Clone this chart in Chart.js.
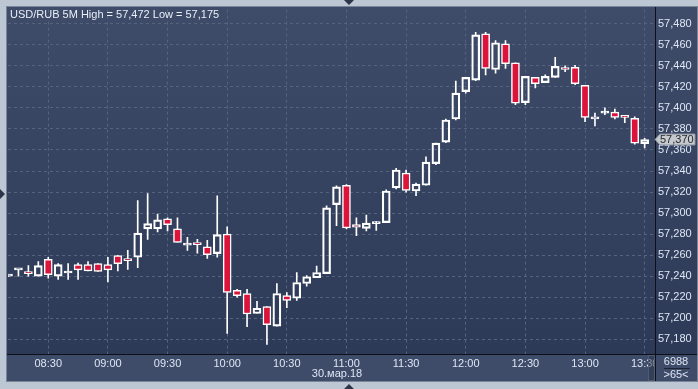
<!DOCTYPE html>
<html lang="ru">
<head>
<meta charset="UTF-8">
<title>USD/RUB 5M</title>
<script src="https://cdn.jsdelivr.net/npm/chart.js"></script>
<style>
  html, body { margin: 0; padding: 0; background: #bcc7d3; }
  #wrap { width: 698px; height: 389px; }
</style>
</head>
<body>
<div id="wrap"><canvas id="myChart" width="698" height="389"></canvas></div>
<script>
// 5-minute candles, 30 Mar 2018
const times = [
  '08:10','08:15','08:20','08:25','08:30','08:35','08:40','08:45','08:50','08:55',
  '09:00','09:05','09:10','09:15','09:20','09:25','09:30','09:35','09:40','09:45',
  '09:50','09:55','10:00','10:05','10:10','10:15','10:20','10:25','10:30','10:35',
  '10:40','10:45','10:50','10:55','11:00','11:05','11:10','11:15','11:20','11:25',
  '11:30','11:35','11:40','11:45','11:50','11:55','12:00','12:05','12:10','12:15',
  '12:20','12:25','12:30','12:35','12:40','12:45','12:50','12:55','13:00','13:05',
  '13:10','13:15','13:20','13:25','13:30'
];
const opens = [
  57240, 57246, 57243.5, 57240, 57256, 57240, 57243, 57251, 57251, 57252,
  57251, 57259.5, 57256.7, 57258, 57285, 57285, 57294.5, 57285, 57269.5, 57272,
  57268, 57261.5, 57280, 57226.5, 57223.5, 57204.5, 57211, 57192.5, 57221.5, 57219,
  57233, 57238.5, 57242.5, 57308, 57326.5, 57289, 57285.5, 57290, 57291, 57324,
  57338, 57321, 57326.5, 57347, 57367.5, 57389.5, 57415.5, 57426.5, 57470.5, 57436.5,
  57461, 57443, 57405, 57429, 57424, 57429, 57437, 57438.5, 57421.5, 57389.5,
  57395, 57396, 57391.5, 57390, 57366
];
const highs = [
  57240, 57246, 57250, 57254, 57258, 57252, 57252, 57252.5, 57254, 57252,
  57258, 57259.5, 57264.5, 57312, 57318.5, 57299, 57295.5, 57295.5, 57277, 57275,
  57274, 57316.5, 57287, 57227.5, 57227.5, 57216, 57211, 57233, 57224.5, 57243.5,
  57240.5, 57249.5, 57307, 57326, 57327, 57295.5, 57298, 57292, 57322, 57342.5,
  57341, 57328.5, 57353.5, 57366.5, 57389.5, 57425.5, 57429, 57472, 57472, 57464,
  57464, 57443, 57430, 57429, 57431.5, 57448, 57440, 57440.5, 57421.5, 57395,
  57400, 57399, 57393, 57391.5, 57371
];
const lows = [
  57240, 57240, 57240, 57240, 57238, 57237, 57237, 57237, 57245, 57244.5,
  57234.5, 57245, 57246.5, 57248, 57275, 57282, 57283, 57272, 57264.5, 57262,
  57257, 57258, 57185.5, 57220, 57192, 57204.5, 57175, 57192.5, 57210, 57217,
  57230.5, 57238.5, 57242.5, 57288, 57285, 57278.5, 57283, 57283.5, 57291, 57323,
  57320, 57316.5, 57326.5, 57346, 57367, 57388.5, 57414, 57426, 57431.5, 57433,
  57437.5, 57403, 57403, 57419, 57424, 57429, 57434.5, 57422, 57387, 57383,
  57393.5, 57389.5, 57386, 57365.5, 57362
];
const closes = [
  57240, 57246, 57242.5, 57250, 57241.5, 57251, 57244, 57246, 57245, 57244.5,
  57246, 57252, 57254.8, 57281, 57290, 57293.5, 57289, 57272, 57270.5, 57270,
  57260.5, 57279.5, 57224.5, 57221.5, 57204, 57209.5, 57194, 57223.5, 57217, 57234,
  57239.5, 57243.5, 57305, 57325, 57286, 57286.5, 57290.5, 57290.5, 57321, 57341,
  57321.5, 57327.5, 57348.5, 57366.5, 57388.5, 57414, 57429, 57469.5, 57437.5, 57462,
  57442, 57404.5, 57430, 57423, 57430, 57439.5, 57436.5, 57423, 57391, 57391.5,
  57395.5, 57391, 57391, 57366.5, 57370
];
const yTicks = [57180, 57200, 57220, 57240, 57260, 57280, 57300, 57320, 57340, 57360,
  57380, 57400, 57420, 57440, 57460, 57480];
const title = 'USD/RUB 5M High = 57,472 Low = 57,175';
const dateLabel = '30.мар.18';
const volumeLabel = '6988';
const countLabel = '>65<';

const RED = '#dc143c';
const TXT = '#dde6f3';
const GRID = '#56637f';
const FONT = "'Liberation Sans Narrow', 'Liberation Sans', Arial, sans-serif";

const fmt = v => Math.round(v).toString().replace(/\B(?=(\d{3})+(?!\d))/g, ',');
const xTickIdx = times.map((t, i) => (t.endsWith(':00') || t.endsWith(':30')) ? i : -1).filter(i => i >= 0);

const bodies = opens.map((o, i) => ({ x: i, y: [o, closes[i]] }));
const upperWicks = opens.map((o, i) => ({ x: i, y: [Math.max(o, closes[i]), highs[i]] }));
const lowerWicks = opens.map((o, i) => ({ x: i, y: [lows[i], Math.min(o, closes[i])] }));

const framePlugin = {
  id: 'frame',
  beforeDraw(chart) {
    const c = chart.ctx;
    c.save();
    c.fillStyle = '#bcc7d3';
    c.fillRect(0, 0, 698, 389);
    const g = c.createLinearGradient(0, 7, 0, 354);
    g.addColorStop(0, '#3f4c69');
    g.addColorStop(1, '#2c3a57');
    c.fillStyle = g;
    c.fillRect(7, 7, 690, 347);
    c.fillStyle = '#3e4c6a';
    c.fillRect(7, 354, 690, 27);
    c.restore();
  },
  afterDraw(chart) {
    const c = chart.ctx;
    const y = chart.scales.y;
    c.save();

    // separators and outline
    c.strokeStyle = '#0d1018';
    c.lineWidth = 1;
    c.beginPath();
    c.moveTo(655.5, 7); c.lineTo(655.5, 381);
    c.moveTo(7, 354.5); c.lineTo(697, 354.5);
    c.stroke();
    c.strokeStyle = '#7a8597';
    c.strokeRect(6.5, 6.5, 691, 375);

    // scroll thumb
    c.fillStyle = 'rgba(40,50,70,0.5)';
    c.fillRect(648, 355, 7, 26);
    c.strokeStyle = 'rgba(86,99,122,0.8)';
    c.strokeRect(648.5, 355.5, 6, 25);

    // corner box
    c.fillStyle = '#3e4c6a';
    c.fillRect(656, 355, 41, 26);
    c.fillStyle = TXT;
    c.font = '11px ' + FONT;
    c.textAlign = 'center';
    c.textBaseline = 'middle';
    c.fillText(volumeLabel, 676, 362);
    c.fillText(countLabel, 676, 375);
    c.strokeStyle = '#1c2335';
    c.beginPath();
    c.moveTo(664, 368.5); c.lineTo(690, 368.5);
    c.stroke();

    // title and date
    c.textAlign = 'left';
    c.fillStyle = '#e8eef8';
    c.fillText(title, 10, 15);
    c.textAlign = 'center';
    c.fillStyle = TXT;
    c.fillText(dateLabel, 337, 374);

    // last price marker
    const last = closes[closes.length - 1];
    const py = Math.round(y.getPixelForValue(last)) + 0.5;
    c.fillStyle = '#c4c9d0';
    c.strokeStyle = '#8a919c';
    c.beginPath();
    c.moveTo(655, py);
    c.lineTo(660, py - 5.5);
    c.lineTo(695, py - 5.5);
    c.lineTo(695, py + 5.5);
    c.lineTo(660, py + 5.5);
    c.closePath();
    c.fill();
    c.stroke();
    c.fillStyle = '#2a2a2a';
    c.textAlign = 'left';
    c.fillText(fmt(last), 660, py);

    // frame arrows
    c.fillStyle = '#2b3449';
    c.beginPath();
    c.moveTo(344, 0); c.lineTo(354, 0); c.lineTo(349, 5); c.closePath();
    c.moveTo(344, 389); c.lineTo(354, 389); c.lineTo(349, 384); c.closePath();
    c.moveTo(0, 189); c.lineTo(0, 199); c.lineTo(5, 194); c.closePath();
    c.fill();
    c.restore();
  }
};

const ctx = document.getElementById('myChart').getContext('2d');
new Chart(ctx, {
  type: 'bar',
  data: {
    datasets: [
      {
        data: bodies,
        grouped: false,
        barThickness: 8,
        minBarLength: 2,
        backgroundColor: c => closes[c.dataIndex] < opens[c.dataIndex] ? RED : 'rgba(0,0,0,0)',
        borderColor: '#ffffff',
        borderWidth: 1.5,
        borderSkipped: false
      },
      { data: upperWicks, grouped: false, barThickness: 1, backgroundColor: '#ffffff', borderWidth: 0 },
      { data: lowerWicks, grouped: false, barThickness: 1, backgroundColor: '#ffffff', borderWidth: 0 }
    ]
  },
  options: {
    responsive: false,
    animation: false,
    layout: { padding: { left: 8, top: 8, right: 0, bottom: 0 } },
    plugins: { legend: { display: false }, tooltip: { enabled: false } },
    scales: {
      x: {
        type: 'linear',
        offset: false,
        min: -0.05,
        max: 65.04,
        afterBuildTicks: s => { s.ticks = xTickIdx.map(v => ({ value: v })); },
        afterFit: s => { s.height = 35; },
        grid: { color: GRID, lineWidth: 1, drawTicks: false, offset: false },
        border: { display: false, dash: [3, 3] },
        ticks: {
          autoSkip: false, maxRotation: 0, padding: 3, color: TXT,
          font: { family: FONT, size: 11 },
          callback: v => times[v]
        }
      },
      y: {
        position: 'right',
        min: 57166,
        max: 57493.5,
        afterBuildTicks: s => { s.ticks = yTicks.map(v => ({ value: v })); },
        afterFit: s => { s.width = 43; },
        grid: { color: GRID, lineWidth: 1, drawTicks: false },
        border: { display: false, dash: [3, 3] },
        ticks: {
          padding: 3, color: TXT,
          font: { family: FONT, size: 11 },
          callback: v => fmt(v)
        }
      }
    }
  },
  plugins: [framePlugin]
});
</script>
</body>
</html>
